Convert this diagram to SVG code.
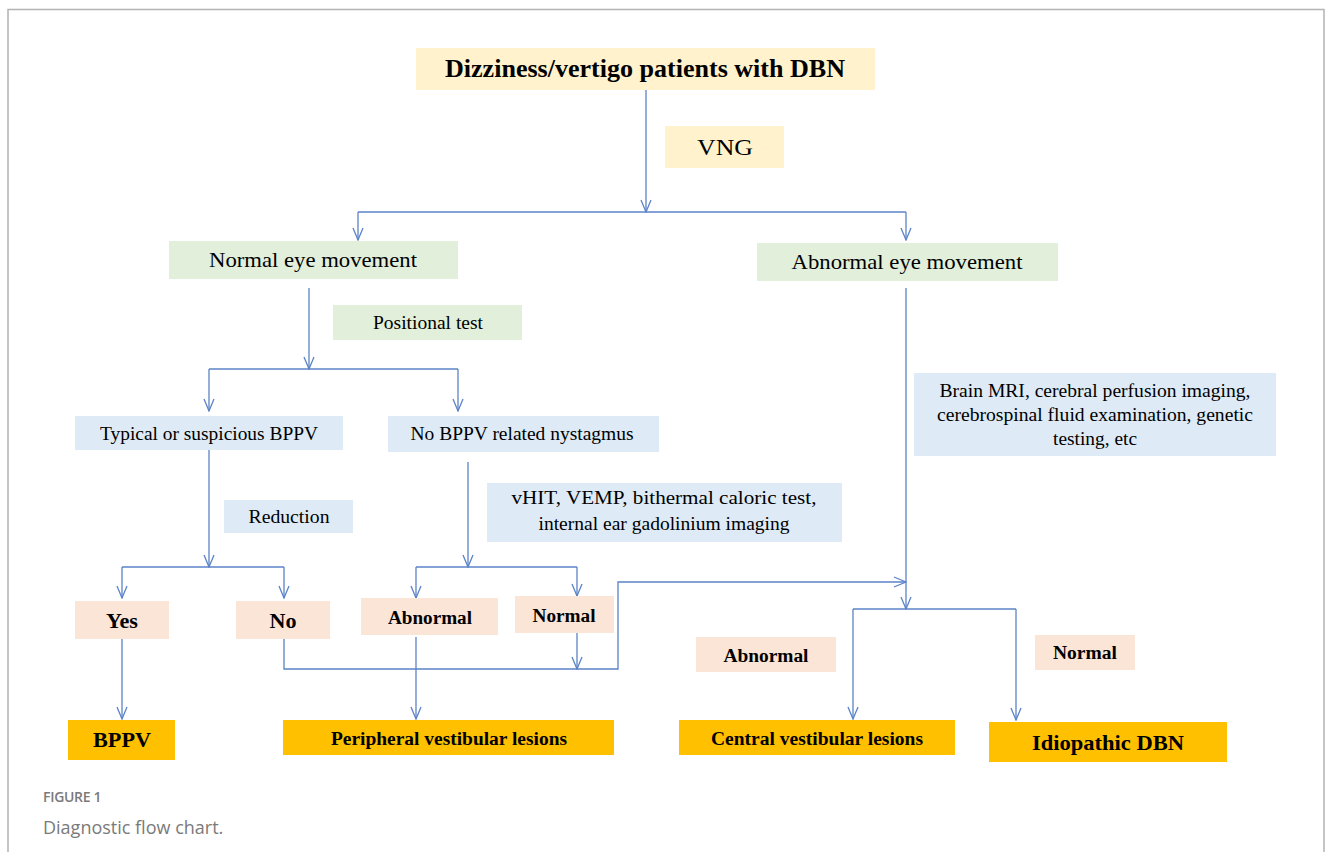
<svg xmlns="http://www.w3.org/2000/svg" width="1333" height="852" viewBox="0 0 1333 852">
<style>
text{font-family:"Liberation Serif","Times New Roman",serif;fill:#000;text-anchor:middle}
.b{font-weight:bold}
.y{fill:#FFF2CC}.g{fill:#E2EFDA}.bl{fill:#DEEBF7}.p{fill:#FBE5D6}.o{fill:#FFC000}
.c{fill:none;stroke:#5B83C7;stroke-width:1.3}
.cap{font-family:"Open Sans","Lato",sans-serif;text-anchor:start;fill:#7a7a7a}
</style>
<defs>
<marker id="a" markerUnits="userSpaceOnUse" markerWidth="14" markerHeight="14" viewBox="0 0 14 14" refX="13" refY="7" orient="auto">
<path d="M1,2 L13,7 L1,12" fill="none" stroke="#5B83C7" stroke-width="1.3"/>
</marker>
</defs>
<rect x="0" y="0" width="1333" height="852" fill="#fff"/>
<path d="M8,860 V9.5 H1324 V860" fill="none" stroke="#b3b3b3" stroke-width="1.5"/>

<g id="connectors">
<path class="c" d="M646,90 V212" marker-end="url(#a)"/>
<path class="c" d="M358,212 H906"/>
<path class="c" d="M358,212 V240" marker-end="url(#a)"/>
<path class="c" d="M906,212 V240" marker-end="url(#a)"/>
<path class="c" d="M309,288 V369" marker-end="url(#a)"/>
<path class="c" d="M209,369 H458"/>
<path class="c" d="M209,369 V411" marker-end="url(#a)"/>
<path class="c" d="M458,369 V411" marker-end="url(#a)"/>
<path class="c" d="M209,450 V567" marker-end="url(#a)"/>
<path class="c" d="M122,567 H284"/>
<path class="c" d="M122,567 V598" marker-end="url(#a)"/>
<path class="c" d="M284,567 V598" marker-end="url(#a)"/>
<path class="c" d="M468,462 V567" marker-end="url(#a)"/>
<path class="c" d="M416,567 H577"/>
<path class="c" d="M416,567 V598" marker-end="url(#a)"/>
<path class="c" d="M577,567 V596" marker-end="url(#a)"/>
<path class="c" d="M284,639 V669 H618 V582 H906" marker-end="url(#a)"/>
<path class="c" d="M577,633 V669" marker-end="url(#a)"/>
<path class="c" d="M416,637 V719" marker-end="url(#a)"/>
<path class="c" d="M122,639 V719" marker-end="url(#a)"/>
<path class="c" d="M906,288 V609" marker-end="url(#a)"/>
<path class="c" d="M853,609 H1016"/>
<path class="c" d="M853,609 V719" marker-end="url(#a)"/>
<path class="c" d="M1016,609 V720" marker-end="url(#a)"/>
</g>

<g id="n-title"><rect class="y" x="416" y="48" width="459" height="42"/><text class="b" x="645" y="77" font-size="25" textLength="400" lengthAdjust="spacingAndGlyphs">Dizziness/vertigo patients with DBN</text></g>
<g id="n-vng"><rect class="y" x="665" y="126" width="119" height="42"/><text x="725" y="155" font-size="23" textLength="56" lengthAdjust="spacingAndGlyphs">VNG</text></g>
<g id="n-normal-eye"><rect class="g" x="169" y="241" width="289" height="38"/><text x="313" y="267" font-size="21" textLength="208" lengthAdjust="spacingAndGlyphs">Normal eye movement</text></g>
<g id="n-abnormal-eye"><rect class="g" x="757" y="243" width="301" height="38"/><text x="907" y="269" font-size="21" textLength="231" lengthAdjust="spacingAndGlyphs">Abnormal eye movement</text></g>
<g id="n-positional"><rect class="g" x="333" y="305" width="189" height="35"/><text x="428" y="329" font-size="18" textLength="110" lengthAdjust="spacingAndGlyphs">Positional test</text></g>
<g id="n-typical"><rect class="bl" x="75" y="416" width="268" height="34"/><text x="209" y="440" font-size="18" textLength="218" lengthAdjust="spacingAndGlyphs">Typical or suspicious BPPV</text></g>
<g id="n-nobppv"><rect class="bl" x="388" y="416" width="271" height="36"/><text x="522" y="440" font-size="18" textLength="223" lengthAdjust="spacingAndGlyphs">No BPPV related nystagmus</text></g>
<g id="n-reduction"><rect class="bl" x="224" y="500" width="129" height="33"/><text x="289" y="523" font-size="18" textLength="81" lengthAdjust="spacingAndGlyphs">Reduction</text></g>
<g id="n-vhit"><rect class="bl" x="487" y="483" width="355" height="59"/><text x="664" y="504" font-size="18" textLength="305" lengthAdjust="spacingAndGlyphs">vHIT, VEMP, bithermal caloric test,</text><text x="664" y="530" font-size="18" textLength="251" lengthAdjust="spacingAndGlyphs">internal ear gadolinium imaging</text></g>
<g id="n-brain"><rect class="bl" x="914" y="373" width="362" height="83"/><text x="1095" y="397" font-size="18" textLength="311" lengthAdjust="spacingAndGlyphs">Brain MRI, cerebral perfusion imaging,</text><text x="1095" y="421" font-size="18" textLength="316" lengthAdjust="spacingAndGlyphs">cerebrospinal fluid examination, genetic</text><text x="1095" y="445" font-size="18" textLength="84" lengthAdjust="spacingAndGlyphs">testing, etc</text></g>
<g id="n-yes"><rect class="p" x="75" y="601" width="94" height="38"/><text class="b" x="122" y="628" font-size="21" textLength="32" lengthAdjust="spacingAndGlyphs">Yes</text></g>
<g id="n-no"><rect class="p" x="236" y="601" width="94" height="38"/><text class="b" x="283" y="628" font-size="21" textLength="27" lengthAdjust="spacingAndGlyphs">No</text></g>
<g id="n-abnormal1"><rect class="p" x="361" y="598" width="137" height="37"/><text class="b" x="430" y="624" font-size="18" textLength="84" lengthAdjust="spacingAndGlyphs">Abnormal</text></g>
<g id="n-normal1"><rect class="p" x="515" y="596" width="99" height="37"/><text class="b" x="564" y="622" font-size="18" textLength="63" lengthAdjust="spacingAndGlyphs">Normal</text></g>
<g id="n-abnormal2"><rect class="p" x="696" y="637" width="140" height="35"/><text class="b" x="766" y="662" font-size="18" textLength="85" lengthAdjust="spacingAndGlyphs">Abnormal</text></g>
<g id="n-normal2"><rect class="p" x="1035" y="635" width="100" height="35"/><text class="b" x="1085" y="659" font-size="18" textLength="64" lengthAdjust="spacingAndGlyphs">Normal</text></g>
<g id="n-bppv"><rect class="o" x="68" y="720" width="107" height="40"/><text class="b" x="122" y="747" font-size="21" textLength="58" lengthAdjust="spacingAndGlyphs">BPPV</text></g>
<g id="n-peripheral"><rect class="o" x="283" y="720" width="331" height="35"/><text class="b" x="449" y="745" font-size="18" textLength="236" lengthAdjust="spacingAndGlyphs">Peripheral vestibular lesions</text></g>
<g id="n-central"><rect class="o" x="679" y="720" width="276" height="35"/><text class="b" x="817" y="745" font-size="18" textLength="212" lengthAdjust="spacingAndGlyphs">Central vestibular lesions</text></g>
<g id="n-idiopathic"><rect class="o" x="989" y="722" width="238" height="40"/><text class="b" x="1108" y="750" font-size="22" textLength="152" lengthAdjust="spacingAndGlyphs">Idiopathic DBN</text></g>

<text class="cap" x="43" y="802" font-size="14" font-weight="600" letter-spacing="-0.3">FIGURE 1</text>
<text class="cap" x="43" y="834" font-size="18">Diagnostic flow chart.</text>
</svg>
